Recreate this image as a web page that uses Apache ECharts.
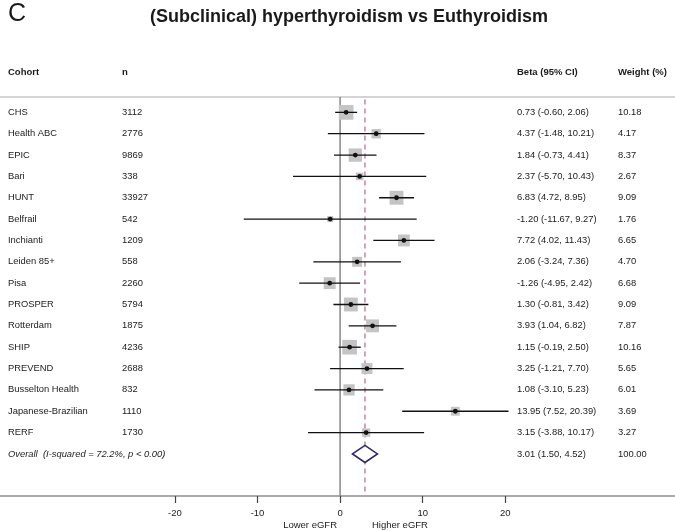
<!DOCTYPE html>
<html><head><meta charset="utf-8">
<script src="https://cdn.jsdelivr.net/npm/echarts@6/dist/echarts.min.js"></script>
<style>html,body{margin:0;padding:0;background:#fff}#c{width:675px;height:530px}</style>
</head><body><div id="c"></div>
<script>
const cohorts = ['CHS','Health ABC','EPIC','Bari','HUNT','Belfrail','Inchianti','Leiden 85+','Pisa','PROSPER','Rotterdam','SHIP','PREVEND','Busselton Health','Japanese-Brazilian','RERF'];
const nValues = ['3112','2776','9869','338','33927','542','1209','558','2260','5794','1875','4236','2688','832','1110','1730'];
const betas  = [0.73, 4.37, 1.84, 2.37, 6.83, -1.20, 7.72, 2.06, -1.26, 1.30, 3.93, 1.15, 3.25, 1.08, 13.95, 3.15];
const lowers = [-0.60, -1.48, -0.73, -5.70, 4.72, -11.67, 4.02, -3.24, -4.95, -0.81, 1.04, -0.19, -1.21, -3.10, 7.52, -3.88];
const uppers = [2.06, 10.21, 4.41, 10.43, 8.95, 9.27, 11.43, 7.36, 2.42, 3.42, 6.82, 2.50, 7.70, 5.23, 20.39, 10.17];
const weights = ['10.18','4.17','8.37','2.67','9.09','1.76','6.65','4.70','6.68','9.09','7.87','10.16','5.65','6.01','3.69','3.27'];
const overallLabel = 'Overall  (I-squared = 72.2%, p < 0.00)';
const overall = {beta: 3.01, lo: 1.50, hi: 4.52, weight: '100.00'};
const xTicks = [-20, -10, 0, 10, 20];

const FONT = 'Liberation Sans, Arial, sans-serif';
const ROWFONT = '9.4px ' + FONT;
const fmt = v => v.toFixed(2);
const ciText = (b, l, h) => fmt(b) + ' (' + fmt(l) + ', ' + fmt(h) + ')';

const studyData = cohorts.map((c, i) => [i, betas[i], lowers[i], uppers[i], parseFloat(weights[i])]);

const chart = echarts.init(document.getElementById('c'), null, {renderer: 'canvas'});

function textEl(x, y, str, opts) {
  return {type: 'text', x: x, y: y, style: Object.assign({text: str, fill: '#1a1a1a', font: ROWFONT, textVerticalAlign: 'middle', textAlign: 'left'}, opts || {})};
}

const option = {
  animation: false,
  backgroundColor: '#fff',
  grid: {left: 0, right: 0, top: 97, bottom: 34},
  xAxis: [{
    type: 'value', min: -41.18, max: 40.55, position: 'bottom',
    splitLine: {show: false},
    axisLine: {show: true, onZero: false, lineStyle: {color: '#8e8e8e', width: 1.5}},
    axisTick: {show: true, length: 7, customValues: xTicks, lineStyle: {color: '#444', width: 1.2}},
    axisLabel: {customValues: xTicks, fontSize: 9.5, fontFamily: FONT, color: '#1a1a1a', margin: 12}
  }, {
    type: 'value', min: -41.18, max: 40.55, position: 'top',
    splitLine: {show: false},
    axisLine: {show: true, onZero: false, lineStyle: {color: '#c6c6c6', width: 1.5}},
    axisTick: {show: false}, axisLabel: {show: false}
  }],
  yAxis: {type: 'value', min: -0.72, max: 17.97, inverse: true, show: false},
  graphic: [
    {type: 'text', left: 8, top: 2, style: {text: 'C', font: '25px ' + FONT, fill: '#1a1a1a'}},
    {type: 'text', x: 349, y: 17, style: {text: '(Subclinical) hyperthyroidism vs Euthyroidism', font: 'bold 18px ' + FONT, fill: '#1a1a1a', textAlign: 'center', textVerticalAlign: 'middle'}},
    {type: 'text', x: 8, y: 72, style: {text: 'Cohort', font: 'bold 9.5px ' + FONT, fill: '#1a1a1a', textVerticalAlign: 'middle'}},
    {type: 'text', x: 122, y: 72, style: {text: 'n', font: 'bold 9.5px ' + FONT, fill: '#1a1a1a', textVerticalAlign: 'middle'}},
    {type: 'text', x: 517, y: 72, style: {text: 'Beta (95% CI)', font: 'bold 9.5px ' + FONT, fill: '#1a1a1a', textVerticalAlign: 'middle'}},
    {type: 'text', x: 618, y: 72, style: {text: 'Weight (%)', font: 'bold 9.5px ' + FONT, fill: '#1a1a1a', textVerticalAlign: 'middle'}},
    {type: 'text', x: 337, y: 525, style: {text: 'Lower eGFR', font: '9.5px ' + FONT, fill: '#1a1a1a', textAlign: 'right', textVerticalAlign: 'middle'}},
    {type: 'text', x: 372, y: 525, style: {text: 'Higher eGFR', font: '9.5px ' + FONT, fill: '#1a1a1a', textAlign: 'left', textVerticalAlign: 'middle'}}
  ],
  series: [
    {
      type: 'custom', name: 'refs', silent: true,
      data: [[0]],
      renderItem: function (params, api) {
        const top0 = api.coord([0, -0.72]), bot0 = api.coord([0, 17.97]);
        const topD = api.coord([overall.beta, -0.6]), botD = api.coord([overall.beta, 17.97]);
        return {type: 'group', children: [
          {type: 'line', shape: {x1: top0[0], y1: top0[1], x2: bot0[0], y2: bot0[1]}, style: {stroke: '#8e8e8e', lineWidth: 1.6}},
          {type: 'line', shape: {x1: topD[0], y1: topD[1], x2: botD[0], y2: botD[1]}, style: {stroke: '#c98f9c', lineWidth: 1.6, lineDash: [5, 4]}}
        ]};
      }
    },
    {
      type: 'custom', name: 'studies', silent: true,
      data: studyData,
      encode: {x: [1, 2, 3], y: 0},
      renderItem: function (params, api) {
        const i = api.value(0);
        const b = api.coord([api.value(1), i]);
        const l = api.coord([api.value(2), i]);
        const h = api.coord([api.value(3), i]);
        const side = 4.6 * Math.sqrt(api.value(4));
        const y = b[1];
        return {type: 'group', children: [
          {type: 'rect', shape: {x: b[0] - side / 2, y: y - side / 2, width: side, height: side}, style: {fill: '#c4c4c4'}},
          {type: 'line', shape: {x1: l[0], y1: y, x2: h[0], y2: y}, style: {stroke: '#111', lineWidth: 1.3}},
          {type: 'circle', shape: {cx: b[0], cy: y, r: 2.4}, style: {fill: '#111'}},
          textEl(8, y, cohorts[i]),
          textEl(122, y, nValues[i]),
          textEl(517, y, ciText(betas[i], lowers[i], uppers[i])),
          textEl(618, y, weights[i])
        ]};
      }
    },
    {
      type: 'custom', name: 'overall', silent: true,
      data: [[16, overall.beta, overall.lo, overall.hi]],
      encode: {x: [1, 2, 3], y: 0},
      renderItem: function (params, api) {
        const i = api.value(0);
        const c = api.coord([api.value(1), i]);
        const l = api.coord([api.value(2), i]);
        const h = api.coord([api.value(3), i]);
        const y = c[1];
        return {type: 'group', children: [
          {type: 'polygon', shape: {points: [[l[0], y], [c[0], y - 8.5], [h[0], y], [c[0], y + 8.5]]}, style: {fill: '#fff', stroke: '#2b2a6e', lineWidth: 1.6}},
          textEl(8, y, overallLabel, {font: 'italic ' + ROWFONT}),
          textEl(517, y, ciText(overall.beta, overall.lo, overall.hi)),
          textEl(618, y, overall.weight)
        ]};
      }
    }
  ]
};
chart.setOption(option);
</script>
</body></html>
